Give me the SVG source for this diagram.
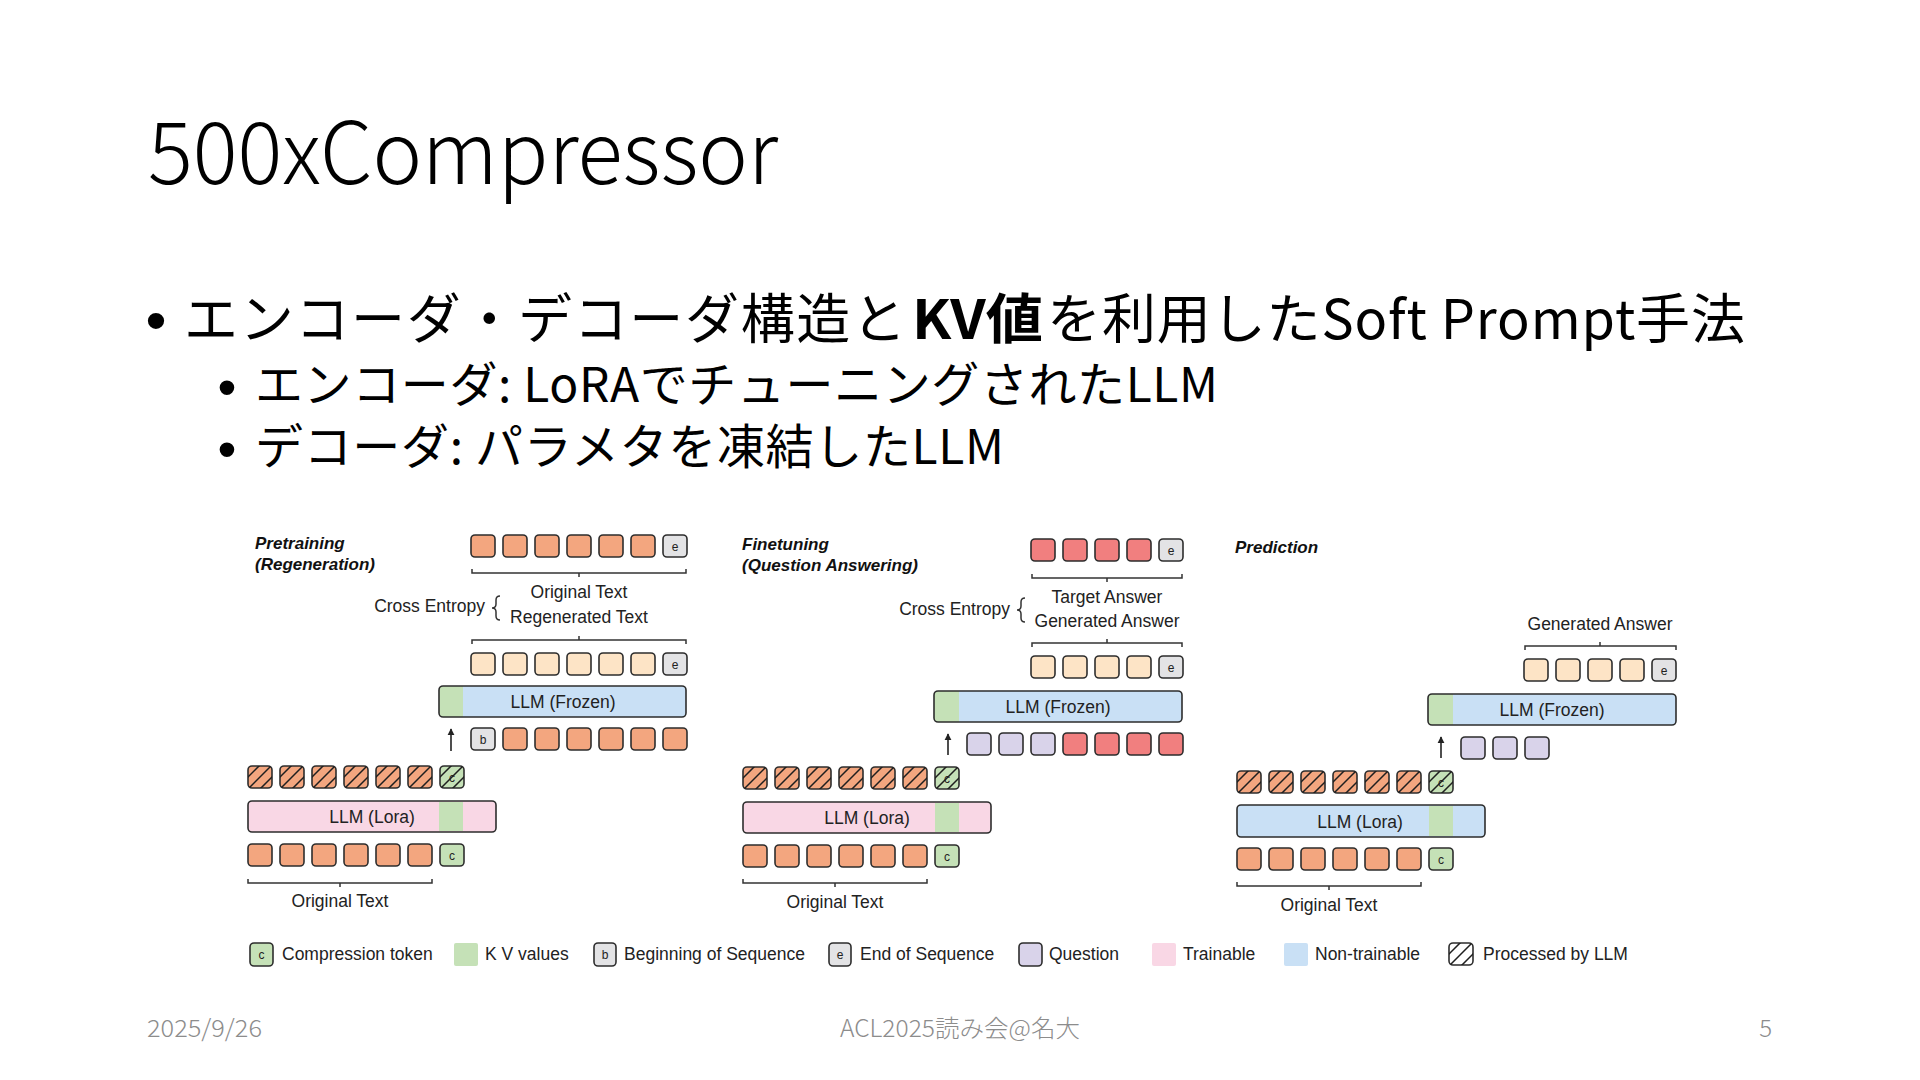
<svg xmlns="http://www.w3.org/2000/svg" xmlns:xlink="http://www.w3.org/1999/xlink" width="1920" height="1080" viewBox="0 0 1920 1080">
<style>
.jp{font-family:"Noto Sans CJK JP","Noto Sans",sans-serif;fill:#000}
.bu{font-family:"Liberation Sans",Arial,sans-serif;fill:#000;text-anchor:middle}
.ft{font-family:"Noto Sans CJK JP","Noto Sans",sans-serif;fill:#8c8c8c;font-size:24px;font-weight:300}
.t{font-family:"Liberation Sans",Arial,sans-serif;fill:#222;font-size:17.5px}
.hd{font-family:"Liberation Sans",Arial,sans-serif;fill:#111;font-size:17px;font-weight:bold;font-style:italic}
.c{text-anchor:middle}
.tok{stroke:#2d2d2d;stroke-width:1.6}
.or{fill:#f3a67f}.pe{fill:#fde4c6}.rd{fill:#f17f7f}.lv{fill:#d9d3ea}.gy{fill:#e3e3e5}.gr{fill:#c5e1b7}
.pk{fill:#f9d7e5}.bl{fill:#c9e0f5}
.ch{font-family:"Liberation Sans",Arial,sans-serif;font-size:12px;text-anchor:middle;fill:#222}
.br{fill:none;stroke:#333;stroke-width:1.5}
.bar{fill:none;stroke:#2d2d2d;stroke-width:1.6}
.ar{stroke:#222;stroke-width:1.6;fill:none}
</style>
<defs>
<marker id="ah" viewBox="0 0 10 10" refX="9" refY="5" markerWidth="4.5" markerHeight="4.5" orient="auto"><path d="M0,0 L10,5 L0,10 z" fill="#222"/></marker>
<clipPath id="hclip"><rect width="24" height="22" rx="4"/></clipPath>
<g id="hatch"><g clip-path="url(#hclip)"><path d="M-2,13 L13,-2 M-2,25 L25,-2 M9,26 L26,9" stroke="#1f1f1f" stroke-width="1.5" fill="none"/></g></g>
</defs>
<rect width="1920" height="1080" fill="#fff"/>

<g id="slide-text">
<text class="jp" x="148" y="184" font-size="86" font-weight="300" textLength="630" lengthAdjust="spacingAndGlyphs">500xCompressor</text>
<text class="bu" x="156" y="341" font-size="60">•</text>
<text class="jp" x="184" y="339" font-size="54" textLength="722" lengthAdjust="spacing">エンコーダ・デコーダ構造と</text>
<text class="jp" x="912" y="339" font-size="54" font-weight="bold" textLength="131" lengthAdjust="spacingAndGlyphs">KV値</text>
<text class="jp" x="1047" y="339" font-size="54" textLength="698" lengthAdjust="spacing">を利用したSoft Prompt手法</text>
<text class="bu" x="227" y="406" font-size="54">•</text>
<text class="jp" x="255" y="402" font-size="48" textLength="963" lengthAdjust="spacing">エンコーダ: LoRAでチューニングされたLLM</text>
<text class="bu" x="227" y="468" font-size="54">•</text>
<text class="jp" x="255" y="464" font-size="48" textLength="749" lengthAdjust="spacing">デコーダ: パラメタを凍結したLLM</text>
<text class="ft" x="147" y="1037" textLength="115" lengthAdjust="spacingAndGlyphs">2025/9/26</text>
<text class="ft" x="840" y="1037" textLength="240" lengthAdjust="spacingAndGlyphs">ACL2025読み会@名大</text>
<text class="ft" x="1772" y="1037" text-anchor="end">5</text>
</g>

<!-- ===== Panel 1: Pretraining ===== -->
<g id="p1-heading"><text class="hd" x="255" y="549">Pretraining</text><text class="hd" x="255" y="570">(Regeneration)</text></g>
<g id="p1-original-text-target">
<rect class="tok or" x="471" y="535" width="24" height="22" rx="4"/><rect class="tok or" x="503" y="535" width="24" height="22" rx="4"/><rect class="tok or" x="535" y="535" width="24" height="22" rx="4"/><rect class="tok or" x="567" y="535" width="24" height="22" rx="4"/><rect class="tok or" x="599" y="535" width="24" height="22" rx="4"/><rect class="tok or" x="631" y="535" width="24" height="22" rx="4"/><rect class="tok gy" x="663" y="535" width="24" height="22" rx="4"/><text class="ch" x="675" y="550.5">e</text>
</g>
<g id="p1-cross-entropy">
<text class="t c" x="579" y="598">Original Text</text>
<text class="t c" x="579" y="623">Regenerated Text</text>
<text class="t" x="485" y="612" text-anchor="end">Cross Entropy</text>
<path class="br" d="M500,596 Q496,596 496,600 L496,604 Q496,608 492,608 Q496,608 496,612 L496,616 Q496,620 500,620"/>
</g>
<g id="p1-regenerated-text">
<rect class="tok pe" x="471" y="653" width="24" height="22" rx="4"/><rect class="tok pe" x="503" y="653" width="24" height="22" rx="4"/><rect class="tok pe" x="535" y="653" width="24" height="22" rx="4"/><rect class="tok pe" x="567" y="653" width="24" height="22" rx="4"/><rect class="tok pe" x="599" y="653" width="24" height="22" rx="4"/><rect class="tok pe" x="631" y="653" width="24" height="22" rx="4"/><rect class="tok gy" x="663" y="653" width="24" height="22" rx="4"/><text class="ch" x="675" y="668.5">e</text>
</g>
<g id="p1-llm-frozen">
<rect class="bl" x="439" y="686" width="247" height="31" rx="4"/>
<path class="gr" d="M463,686 H443 A4,4 0 0 0 439,690 V713 A4,4 0 0 0 443,717 H463 Z"/>
<rect class="bar" x="439" y="686" width="247" height="31" rx="4"/>
<text class="t c" x="563" y="708">LLM (Frozen)</text>
</g>
<g id="p1-decoder-input">
<rect class="tok gy" x="471" y="728" width="24" height="22" rx="4"/><text class="ch" x="483" y="743.5">b</text><rect class="tok or" x="503" y="728" width="24" height="22" rx="4"/><rect class="tok or" x="535" y="728" width="24" height="22" rx="4"/><rect class="tok or" x="567" y="728" width="24" height="22" rx="4"/><rect class="tok or" x="599" y="728" width="24" height="22" rx="4"/><rect class="tok or" x="631" y="728" width="24" height="22" rx="4"/><rect class="tok or" x="663" y="728" width="24" height="22" rx="4"/>
</g>
<g id="p1-processed">
<rect class="tok or" x="248" y="766" width="24" height="22" rx="4"/><use href="#hatch" x="248" y="766"/><rect class="tok or" x="280" y="766" width="24" height="22" rx="4"/><use href="#hatch" x="280" y="766"/><rect class="tok or" x="312" y="766" width="24" height="22" rx="4"/><use href="#hatch" x="312" y="766"/><rect class="tok or" x="344" y="766" width="24" height="22" rx="4"/><use href="#hatch" x="344" y="766"/><rect class="tok or" x="376" y="766" width="24" height="22" rx="4"/><use href="#hatch" x="376" y="766"/><rect class="tok or" x="408" y="766" width="24" height="22" rx="4"/><use href="#hatch" x="408" y="766"/><rect class="tok gr" x="440" y="766" width="24" height="22" rx="4"/><text class="ch" x="452" y="781.5">c</text><use href="#hatch" x="440" y="766"/>
</g>
<g id="p1-llm-lora">
<rect class="pk" x="248" y="801" width="248" height="31" rx="4"/>
<rect class="gr" x="439" y="802" width="24" height="29"/>
<rect class="bar" x="248" y="801" width="248" height="31" rx="4"/>
<text class="t c" x="372" y="823">LLM (Lora)</text>
</g>
<g id="p1-encoder-input">
<rect class="tok or" x="248" y="844" width="24" height="22" rx="4"/><rect class="tok or" x="280" y="844" width="24" height="22" rx="4"/><rect class="tok or" x="312" y="844" width="24" height="22" rx="4"/><rect class="tok or" x="344" y="844" width="24" height="22" rx="4"/><rect class="tok or" x="376" y="844" width="24" height="22" rx="4"/><rect class="tok or" x="408" y="844" width="24" height="22" rx="4"/><rect class="tok gr" x="440" y="844" width="24" height="22" rx="4"/><text class="ch" x="452" y="859.5">c</text>
</g>
<g id="p1-original-text-label"><text class="t c" x="340" y="907">Original Text</text></g>

<!-- ===== Panel 2: Finetuning ===== -->
<g id="p2-heading"><text class="hd" x="742" y="550">Finetuning</text><text class="hd" x="742" y="571">(Question Answering)</text></g>
<g id="p2-target-answer">
<rect class="tok rd" x="1031" y="539" width="24" height="22" rx="4"/><rect class="tok rd" x="1063" y="539" width="24" height="22" rx="4"/><rect class="tok rd" x="1095" y="539" width="24" height="22" rx="4"/><rect class="tok rd" x="1127" y="539" width="24" height="22" rx="4"/><rect class="tok gy" x="1159" y="539" width="24" height="22" rx="4"/><text class="ch" x="1171" y="554.5">e</text>
</g>
<g id="p2-cross-entropy">
<text class="t c" x="1107" y="603">Target Answer</text>
<text class="t c" x="1107" y="627">Generated Answer</text>
<text class="t" x="1010" y="615" text-anchor="end">Cross Entropy</text>
<path class="br" d="M1025,598 Q1021,598 1021,602 L1021,606 Q1021,610 1017,610 Q1021,610 1021,614 L1021,618 Q1021,622 1025,622"/>
</g>
<g id="p2-generated-answer">
<rect class="tok pe" x="1031" y="656" width="24" height="22" rx="4"/><rect class="tok pe" x="1063" y="656" width="24" height="22" rx="4"/><rect class="tok pe" x="1095" y="656" width="24" height="22" rx="4"/><rect class="tok pe" x="1127" y="656" width="24" height="22" rx="4"/><rect class="tok gy" x="1159" y="656" width="24" height="22" rx="4"/><text class="ch" x="1171" y="671.5">e</text>
</g>
<g id="p2-llm-frozen">
<rect class="bl" x="934" y="691" width="248" height="31" rx="4"/>
<path class="gr" d="M959,691 H938 A4,4 0 0 0 934,695 V718 A4,4 0 0 0 938,722 H959 Z"/>
<rect class="bar" x="934" y="691" width="248" height="31" rx="4"/>
<text class="t c" x="1058" y="713">LLM (Frozen)</text>
</g>
<g id="p2-decoder-input">
<rect class="tok lv" x="967" y="733" width="24" height="22" rx="4"/><rect class="tok lv" x="999" y="733" width="24" height="22" rx="4"/><rect class="tok lv" x="1031" y="733" width="24" height="22" rx="4"/><rect class="tok rd" x="1063" y="733" width="24" height="22" rx="4"/><rect class="tok rd" x="1095" y="733" width="24" height="22" rx="4"/><rect class="tok rd" x="1127" y="733" width="24" height="22" rx="4"/><rect class="tok rd" x="1159" y="733" width="24" height="22" rx="4"/>
</g>
<g id="p2-processed">
<rect class="tok or" x="743" y="767" width="24" height="22" rx="4"/><use href="#hatch" x="743" y="767"/><rect class="tok or" x="775" y="767" width="24" height="22" rx="4"/><use href="#hatch" x="775" y="767"/><rect class="tok or" x="807" y="767" width="24" height="22" rx="4"/><use href="#hatch" x="807" y="767"/><rect class="tok or" x="839" y="767" width="24" height="22" rx="4"/><use href="#hatch" x="839" y="767"/><rect class="tok or" x="871" y="767" width="24" height="22" rx="4"/><use href="#hatch" x="871" y="767"/><rect class="tok or" x="903" y="767" width="24" height="22" rx="4"/><use href="#hatch" x="903" y="767"/><rect class="tok gr" x="935" y="767" width="24" height="22" rx="4"/><text class="ch" x="947" y="782.5">c</text><use href="#hatch" x="935" y="767"/>
</g>
<g id="p2-llm-lora">
<rect class="pk" x="743" y="802" width="248" height="31" rx="4"/>
<rect class="gr" x="935" y="803" width="24" height="29"/>
<rect class="bar" x="743" y="802" width="248" height="31" rx="4"/>
<text class="t c" x="867" y="824">LLM (Lora)</text>
</g>
<g id="p2-encoder-input">
<rect class="tok or" x="743" y="845" width="24" height="22" rx="4"/><rect class="tok or" x="775" y="845" width="24" height="22" rx="4"/><rect class="tok or" x="807" y="845" width="24" height="22" rx="4"/><rect class="tok or" x="839" y="845" width="24" height="22" rx="4"/><rect class="tok or" x="871" y="845" width="24" height="22" rx="4"/><rect class="tok or" x="903" y="845" width="24" height="22" rx="4"/><rect class="tok gr" x="935" y="845" width="24" height="22" rx="4"/><text class="ch" x="947" y="860.5">c</text>
</g>
<g id="p2-original-text-label"><text class="t c" x="835" y="908">Original Text</text></g>

<!-- ===== Panel 3: Prediction ===== -->
<g id="p3-heading"><text class="hd" x="1235" y="553">Prediction</text></g>
<g id="p3-generated-answer-label"><text class="t c" x="1600" y="630">Generated Answer</text></g>
<g id="p3-generated-answer">
<rect class="tok pe" x="1524" y="659" width="24" height="22" rx="4"/><rect class="tok pe" x="1556" y="659" width="24" height="22" rx="4"/><rect class="tok pe" x="1588" y="659" width="24" height="22" rx="4"/><rect class="tok pe" x="1620" y="659" width="24" height="22" rx="4"/><rect class="tok gy" x="1652" y="659" width="24" height="22" rx="4"/><text class="ch" x="1664" y="674.5">e</text>
</g>
<g id="p3-llm-frozen">
<rect class="bl" x="1428" y="694" width="248" height="31" rx="4"/>
<path class="gr" d="M1453,694 H1432 A4,4 0 0 0 1428,698 V721 A4,4 0 0 0 1432,725 H1453 Z"/>
<rect class="bar" x="1428" y="694" width="248" height="31" rx="4"/>
<text class="t c" x="1552" y="716">LLM (Frozen)</text>
</g>
<g id="p3-decoder-input">
<rect class="tok lv" x="1461" y="737" width="24" height="22" rx="4"/><rect class="tok lv" x="1493" y="737" width="24" height="22" rx="4"/><rect class="tok lv" x="1525" y="737" width="24" height="22" rx="4"/>
</g>
<g id="p3-processed">
<rect class="tok or" x="1237" y="771" width="24" height="22" rx="4"/><use href="#hatch" x="1237" y="771"/><rect class="tok or" x="1269" y="771" width="24" height="22" rx="4"/><use href="#hatch" x="1269" y="771"/><rect class="tok or" x="1301" y="771" width="24" height="22" rx="4"/><use href="#hatch" x="1301" y="771"/><rect class="tok or" x="1333" y="771" width="24" height="22" rx="4"/><use href="#hatch" x="1333" y="771"/><rect class="tok or" x="1365" y="771" width="24" height="22" rx="4"/><use href="#hatch" x="1365" y="771"/><rect class="tok or" x="1397" y="771" width="24" height="22" rx="4"/><use href="#hatch" x="1397" y="771"/><rect class="tok gr" x="1429" y="771" width="24" height="22" rx="4"/><text class="ch" x="1441" y="786.5">c</text><use href="#hatch" x="1429" y="771"/>
</g>
<g id="p3-llm-lora">
<rect class="bl" x="1237" y="805" width="248" height="32" rx="4"/>
<rect class="gr" x="1429" y="806" width="24" height="30"/>
<rect class="bar" x="1237" y="805" width="248" height="32" rx="4"/>
<text class="t c" x="1360" y="828">LLM (Lora)</text>
</g>
<g id="p3-encoder-input">
<rect class="tok or" x="1237" y="848" width="24" height="22" rx="4"/><rect class="tok or" x="1269" y="848" width="24" height="22" rx="4"/><rect class="tok or" x="1301" y="848" width="24" height="22" rx="4"/><rect class="tok or" x="1333" y="848" width="24" height="22" rx="4"/><rect class="tok or" x="1365" y="848" width="24" height="22" rx="4"/><rect class="tok or" x="1397" y="848" width="24" height="22" rx="4"/><rect class="tok gr" x="1429" y="848" width="24" height="22" rx="4"/><text class="ch" x="1441" y="863.5">c</text>
</g>
<g id="p3-original-text-label"><text class="t c" x="1329" y="911">Original Text</text></g>

<!-- ===== Connectors: brackets and arrows ===== -->
<g id="connectors">
<path class="br" d="M472,569 V573 H686 V569 M579,573 V577"/>
<path class="br" d="M472,644 V640 H686 V644 M579,640 V636"/>
<path class="br" d="M248,879 V883 H432 V879 M340,883 V887"/>
<path class="br" d="M1032,574 V578 H1182 V574 M1107,578 V582"/>
<path class="br" d="M1032,647 V643 H1182 V647 M1107,643 V639"/>
<path class="br" d="M743,879 V883 H927 V879 M835,883 V887"/>
<path class="br" d="M1525,650 V646 H1676 V650 M1600,646 V642"/>
<path class="br" d="M1237,882 V886 H1421 V882 M1329,886 V890"/>
<line class="ar" x1="451" y1="751" x2="451" y2="729" marker-end="url(#ah)"/>
<line class="ar" x1="948" y1="755" x2="948" y2="734" marker-end="url(#ah)"/>
<line class="ar" x1="1441" y1="758" x2="1441" y2="737" marker-end="url(#ah)"/>
</g>

<!-- ===== Legend ===== -->
<g id="legend">
<rect class="tok gr" x="250" y="943" width="23" height="23" rx="4"/><text class="ch" x="261.5" y="959">c</text><text class="t" x="282" y="960">Compression token</text>
<rect class="gr" x="454" y="943" width="24" height="23" rx="2"/><text class="t" x="485" y="960">K V values</text>
<rect class="tok gy" x="594" y="943" width="22" height="23" rx="4"/><text class="ch" x="605" y="959">b</text><text class="t" x="624" y="960">Beginning of Sequence</text>
<rect class="tok gy" x="829" y="943" width="22" height="23" rx="4"/><text class="ch" x="840" y="959">e</text><text class="t" x="860" y="960">End of Sequence</text>
<rect class="tok lv" x="1019" y="943" width="23" height="23" rx="4"/><text class="t" x="1049" y="960">Question</text>
<rect class="pk" x="1152" y="943" width="24" height="23" rx="2"/><text class="t" x="1183" y="960">Trainable</text>
<rect class="bl" x="1284" y="943" width="24" height="23" rx="2"/><text class="t" x="1315" y="960">Non-trainable</text>
<rect class="tok" fill="#fff" x="1449" y="943" width="24" height="22" rx="4"/><use href="#hatch" x="1449" y="943"/><text class="t" x="1483" y="960">Processed by LLM</text>
</g>
</svg>
